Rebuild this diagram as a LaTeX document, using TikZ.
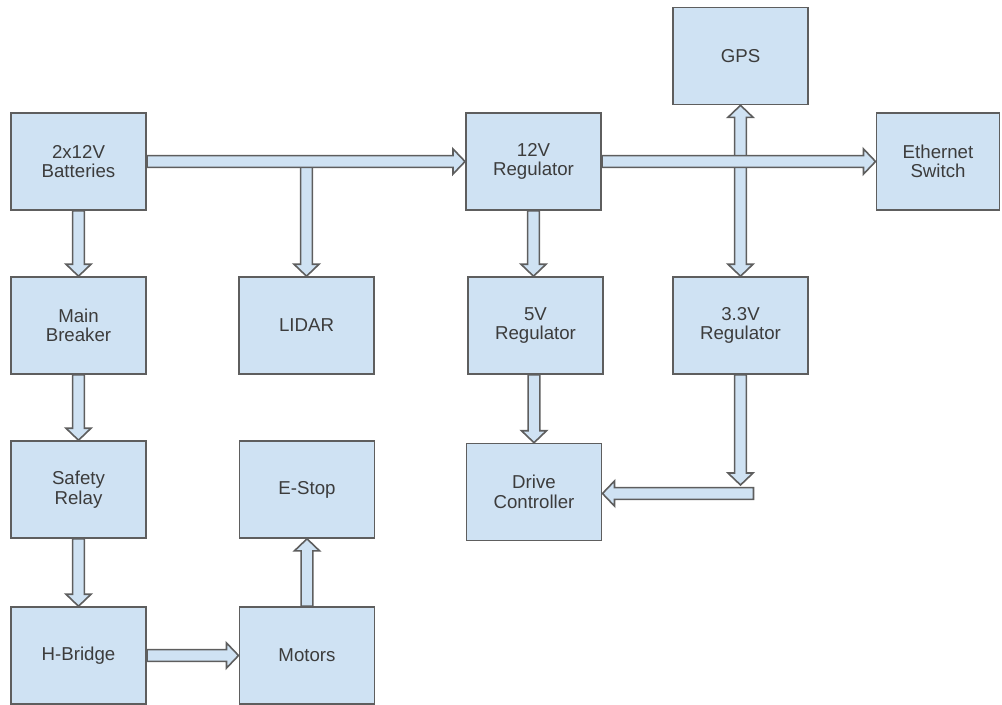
\documentclass[tikz,border=0pt]{standalone}
\usepackage{fontspec}
\setmainfont{Liberation Sans}
\usetikzlibrary{calc,backgrounds}
\definecolor{boxblue}{HTML}{CFE2F3}
\definecolor{edge}{HTML}{5E5E5E}
\definecolor{txt}{HTML}{3C3C3C}
\tikzset{
  box/.style={draw=edge, fill=boxblue, line width=1.2pt, minimum width=101.5pt,
    minimum height=72.75pt, align=center, text=txt, inner sep=0pt,
    font=\fontsize{14}{14.6}\selectfont},
  blk/.style={draw=edge, fill=boxblue, line width=1.2pt, line join=miter}
}
% single block arrow from #1 to #2
\newcommand\barrow[2]{%
  \coordinate (baC) at ($(#2)!9pt!(#1)$);
  \draw[blk] ($(#1)!4.4pt!90:(#2)$) -- ($(baC)!4.4pt!90:(#2)$) -- ($(baC)!9.4pt!90:(#2)$)
    -- (#2) -- ($(baC)!9.4pt!-90:(#2)$) -- ($(baC)!4.4pt!-90:(#2)$)
    -- ($(#1)!4.4pt!-90:(#2)$) -- cycle;}
% double block arrow between #1 and #2
\newcommand\dbarrow[2]{%
  \coordinate (baC) at ($(#2)!9pt!(#1)$);
  \coordinate (baD) at ($(#1)!9pt!(#2)$);
  \draw[blk] (#1) -- ($(baD)!9.4pt!90:(#2)$) -- ($(baD)!4.4pt!90:(#2)$)
    -- ($(baC)!4.4pt!90:(#2)$) -- ($(baC)!9.4pt!90:(#2)$)
    -- (#2) -- ($(baC)!9.4pt!-90:(#2)$) -- ($(baC)!4.4pt!-90:(#2)$)
    -- ($(baD)!4.4pt!-90:(#2)$) -- ($(baD)!9.4pt!-90:(#2)$) -- cycle;}
\begin{document}
\begin{tikzpicture}[x=0.75pt, y=-0.75pt]
\useasboundingbox (0,0) rectangle (1002,704);
% nodes
\node[box] (bat) at (78.5,161.5) {2x12V\\Batteries};
\node[box] (brk) at (78.5,325.5) {Main\\Breaker};
\node[box] (rel) at (78.5,489.5) {Safety\\Relay};
\node[box] (hb) at (78.5,655.5) {H-Bridge};
\node[box] (lidar) at (306.5,325.5) {LIDAR};
\node[box] (estop) at (307,489.5) {E-Stop};
\node[box] (mot) at (307,655.5) {Motors};
\node[box] (reg12) at (533.5,161.5) {12V\\Regulator};
\node[box] (reg5) at (535.5,325.5) {5V\\Regulator};
\node[box] (drive) at (534,492) {Drive\\Controller};
\node[box] (gps) at (740.5,56) {GPS};
\node[box] (reg33) at (740.5,325.5) {3.3V\\Regulator};
\node[box, minimum width=92.5pt] (eth) at (938,161.5) {Ethernet\\Switch};
% helper coordinates
\coordinate (lidtap) at (bat.east -| lidar.north);
\coordinate (gpsb) at (gps.south);
\coordinate (r33t) at (reg33.north);
\coordinate (turn) at ($(reg33.south |- drive.east)+(0,-7)$);
\coordinate (hstart) at ($(reg33.south |- drive.east)+(13,1.5)$);
\coordinate (dend) at ($(drive.east)+(0,1.5)$);
% connectors
\begin{scope}[on background layer]
\barrow{lidtap}{lidar.north}
\barrow{bat.east}{reg12.west}
\barrow{bat.south}{brk.north}
\barrow{brk.south}{rel.north}
\barrow{rel.south}{hb.north}
\barrow{hb.east}{mot.west}
\barrow{mot.north}{estop.south}
\dbarrow{gpsb}{r33t}
\barrow{reg12.east}{eth.west}
\barrow{reg12.south}{reg5.north -| reg12.south}
\barrow{reg5.south -| drive.north}{drive.north}
\barrow{reg33.south}{turn}
\barrow{hstart}{dend}
\end{scope}
\end{tikzpicture}
\end{document}
